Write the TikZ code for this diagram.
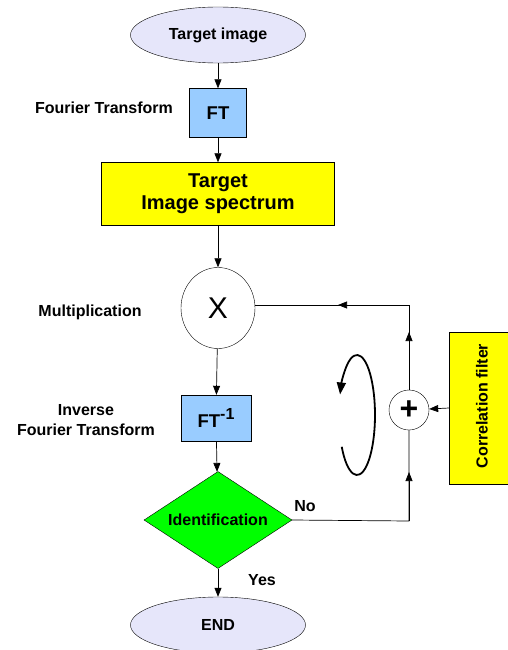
\documentclass[tikz,border=0pt]{standalone}
\usepackage{fontspec}
\setmainfont{Liberation Sans}
\usetikzlibrary{shapes.geometric,arrows.meta}
\definecolor{lav}{RGB}{230,230,250}
\definecolor{ftblue}{RGB}{153,204,255}
\definecolor{yel}{RGB}{255,255,0}
\definecolor{grn}{RGB}{0,255,0}
\tikzset{
  x=1pt,y=-1pt,
  oval/.style={draw,ellipse,fill=lav,minimum width=175pt,minimum height=56pt,font=\fontsize{16}{18}\selectfont\bfseries,inner sep=0pt},
  ftbox/.style={draw,rectangle,fill=ftblue,inner sep=0pt,font=\fontsize{18.5}{20}\selectfont\bfseries},
  ybox/.style={draw,rectangle,fill=yel,inner sep=0pt,align=center},
  lbl/.style={font=\fontsize{16}{20}\selectfont\bfseries,align=center,inner sep=0pt},
  arr/.style={-{Triangle[length=9pt,width=7pt]},line width=0.7pt},
  ln/.style={line width=0.7pt},
}
\begin{document}
\begin{tikzpicture}
\useasboundingbox (0,0) rectangle (507,650);
\node[oval] (tgt) at (218,35) {Target image};
\node[ftbox,minimum width=57pt,minimum height=49pt] (ft) at (218,113) {FT};
\node[ybox,minimum width=233pt,minimum height=63pt,font=\fontsize{20}{22}\selectfont\bfseries] (spec) at (218,194) {Target\\Image spectrum};
\node[draw,ellipse,minimum width=74pt,minimum height=81pt,inner sep=0pt,font=\fontsize{30}{32}\selectfont] (mul) at (218,308) {X};
\node[ftbox,minimum width=70pt,minimum height=46pt] (ift) at (216,418) {FT\raisebox{8pt}{\fontsize{16}{18}\selectfont-1}};
\node[draw,diamond,fill=grn,minimum width=148pt,minimum height=97pt,inner sep=0pt,aspect=1.5,font=\fontsize{16}{18}\selectfont\bfseries] (id) at (218,520) {Identification};
\node[oval] (end) at (218,625) {END};
\node[draw,circle,minimum size=40pt,inner sep=0pt,font=\fontsize{32}{32}\selectfont\bfseries] (plus) at (409,410) {+};
\node[ybox,minimum width=62pt,minimum height=152pt,anchor=west] (cf) at (449,408) {};
\node[lbl,rotate=90] (cft) at (482,406) {Correlation filter};

\node[lbl] (lft) at (104,108) {Fourier Transform};
\node[lbl] (lmul) at (90,312) {Multiplication};
\node[lbl] (lift) at (86,420) {Inverse\\Fourier Transform};
\node[lbl] (lno) at (305,506) {No};
\node[lbl] (lyes) at (262,580) {Yes};

\draw[arr] (tgt) -- (ft);
\draw[arr] (ft) -- (spec);
\draw[arr] (spec) -- (mul);
\draw[arr] (mul) -- (ift);
\draw[arr] (ift) -- (id);
\draw[arr] (id) -- (end);
\draw[arr] (cf.west) -- (plus);

\coordinate (c1) at (409,521);
\coordinate (c2) at (409,305);
\draw[ln] (id.east) -- (c1) -- (plus.south);
\draw[arr] (c1) -- (409,472);
\draw[ln] (plus.north) -- (c2) -- (mul.east |- c2);
\draw[arr] (plus.north) -- (409,332);
\draw[arr] (c2) -- (338,305);

\draw[line width=1.8pt,-{Triangle[length=12pt,width=9pt]}] (357,415) ++(-148:18pt and 60pt) arc[start angle=-148,end angle=160,x radius=18pt,y radius=60pt];
\end{tikzpicture}
\end{document}
